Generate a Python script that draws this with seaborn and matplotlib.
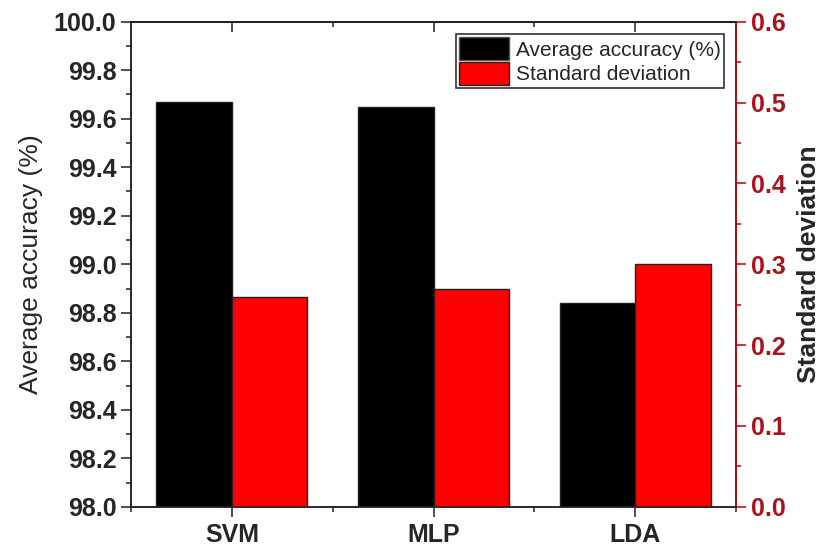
import numpy as np
import pandas as pd
import matplotlib
matplotlib.use("Agg")
import matplotlib.pyplot as plt
from matplotlib.ticker import MultipleLocator, FixedLocator, FormatStrFormatter
from matplotlib.patches import Patch
import seaborn as sns

models = ["SVM", "MLP", "LDA"]
avg_accuracy = [99.67, 99.65, 98.84]
std_deviation = [0.26, 0.27, 0.30]
acc_label = "Average accuracy (%)"
std_label = "Standard deviation"

sns.set_style("ticks")
plt.rcParams["font.family"] = ["Liberation Sans", "DejaVu Sans"]

df = pd.DataFrame({
    "model": models * 2,
    "metric": [acc_label] * 3 + [std_label] * 3,
    "value": avg_accuracy + std_deviation,
})
palette = {acc_label: "black", std_label: "#ff0000"}
order_hue = [acc_label, std_label]

fig = plt.figure(figsize=(8.2, 5.48), dpi=100)
ax1 = fig.add_axes([0.1598, 0.0752, 0.7378, 0.8852])
ax2 = ax1.twinx()

bar_kw = dict(x="model", y="value", hue="metric", hue_order=order_hue,
              order=models, palette=palette, dodge=True, width=0.75,
              errorbar=None, edgecolor="#222222", linewidth=1.0,
              legend=False, saturation=1)
sns.barplot(data=df[df.metric == acc_label], ax=ax1, **bar_kw)
sns.barplot(data=df[df.metric == std_label], ax=ax2, **bar_kw)

red_axis = "#c00000"
red_text = "#a8141c"

ax1.set_xlim(-0.5, 2.5)
ax1.set_ylim(98.0, 100.0)
ax2.set_ylim(0.0, 0.6)

ax1.yaxis.set_major_locator(MultipleLocator(0.2))
ax1.yaxis.set_minor_locator(MultipleLocator(0.1))
ax2.yaxis.set_major_locator(MultipleLocator(0.1))
ax2.yaxis.set_minor_locator(MultipleLocator(0.05))
ax1.xaxis.set_major_locator(FixedLocator([0, 1, 2]))
ax1.xaxis.set_minor_locator(FixedLocator([-0.5, 0.5, 1.5, 2.5]))
ax1.set_xticklabels(models)
ax1.yaxis.set_major_formatter(FormatStrFormatter("%.1f"))
ax2.yaxis.set_major_formatter(FormatStrFormatter("%.1f"))

for a in (ax1, ax2):
    for s in a.spines.values():
        s.set_linewidth(1.1)
        s.set_color("#222222")
ax2.spines["right"].set_color(red_axis)

ax1.tick_params(axis="both", which="major", length=7, width=1.1,
                direction="out", labelsize=18, color="#222222")
ax1.tick_params(axis="both", which="minor", length=3.5, width=1.1,
                direction="out", color="#222222")
ax1.tick_params(axis="x", pad=5)
ax2.tick_params(axis="y", which="major", length=7, width=1.1,
                direction="out", labelsize=18, colors=red_axis,
                labelcolor=red_text)
ax2.tick_params(axis="y", which="minor", length=3.5, width=1.1,
                direction="out", colors=red_axis)

for lab in ax1.get_xticklabels() + ax1.get_yticklabels() + ax2.get_yticklabels():
    lab.set_fontweight("bold")

# Mirrored top axis with inward ticks
top = ax1.secondary_xaxis("top")
top.xaxis.set_major_locator(FixedLocator([0, 1, 2]))
top.xaxis.set_minor_locator(FixedLocator([0.5, 1.5]))
top.tick_params(which="major", direction="in", length=7, width=1.1,
                labeltop=False, color="#222222")
top.tick_params(which="minor", direction="in", length=3.5, width=1.1,
                color="#222222")
top.spines["top"].set_linewidth(1.1)

ax1.set_xlabel("")
ax1.set_ylabel(acc_label, fontsize=19, labelpad=8)
ax2.set_ylabel(std_label, fontsize=19, fontweight="bold", labelpad=8)

handles = [Patch(facecolor="black", edgecolor="#555555", linewidth=1.0),
           Patch(facecolor="#ff0000", edgecolor="#222222", linewidth=1.0)]
leg = ax2.legend(handles, order_hue, loc="upper right", fontsize=15,
                 frameon=True, fancybox=False, edgecolor="#222222",
                 framealpha=1, borderpad=0.15, handlelength=2.4,
                 handleheight=1.3, handletextpad=0.3, labelspacing=0.1,
                 borderaxespad=0.6)
leg.get_frame().set_linewidth(1.1)

fig.savefig("out.png", dpi=100)
